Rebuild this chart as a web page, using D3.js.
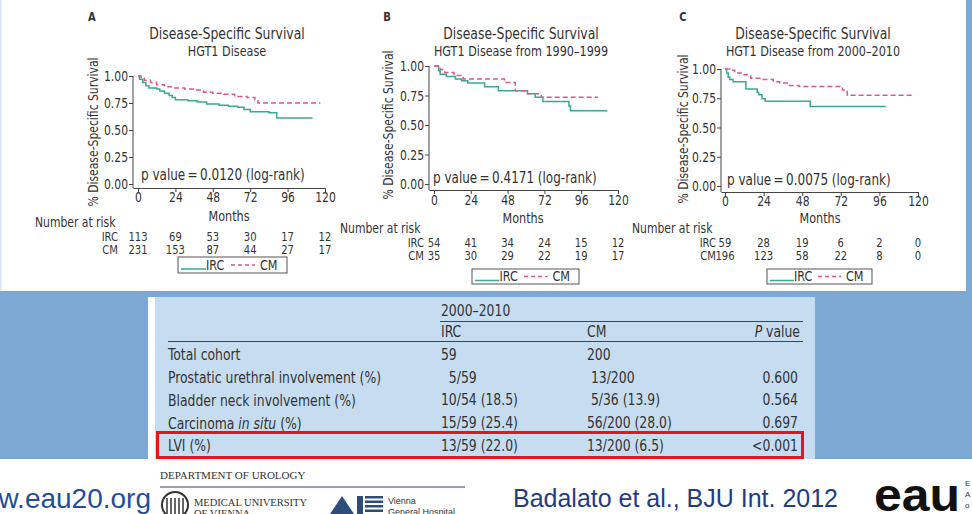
<!DOCTYPE html>
<html><head><meta charset="utf-8">
<script src="https://cdn.jsdelivr.net/npm/d3@7"></script>
<style>
body{margin:0;background:#fff;overflow:hidden}
svg{display:block}
</style></head><body>
<svg id="c" width="972" height="514"></svg>
<script>
// ---------------- DATA ----------------
const monthTicks = [0, 24, 48, 72, 96, 120];
const survTicks = [0, 0.25, 0.5, 0.75, 1];
const seriesNames = ["IRC", "CM"];
const panelLetters = ["A", "B", "C"];
const panelTitle = "Disease-Specific Survival";
const panelSubtitles = ["HGT1 Disease", "HGT1 Disease from 1990\u20131999", "HGT1 Disease from 2000\u20132010"];
const pValues = ["0.0120", "0.4171", "0.0075"];

// Kaplan-Meier steps: [month, survival]
const kmA_IRC = [[0,1],[1,0.97],[3,0.94],[5,0.91],[7,0.89],[12,0.88],[14,0.86],[17,0.84],[20,0.82],[22,0.80],[24,0.78],[32,0.77],[38,0.76],[44,0.74],[52,0.73],[58,0.72],[64,0.71],[68,0.69],[72,0.67],[84,0.66],[89,0.61],[112,0.61]];
const kmA_CM  = [[0,1],[2,0.98],[4,0.96],[8,0.94],[12,0.92],[17,0.90],[22,0.89],[30,0.88],[37,0.87],[42,0.85],[48,0.84],[55,0.83],[62,0.81],[70,0.80],[75,0.78],[77,0.75],[117,0.75]];
const kmB_IRC = [[0,1],[3,0.96],[4,0.93],[8,0.91],[14,0.89],[18,0.875],[22,0.855],[33,0.825],[42,0.79],[61,0.765],[66,0.735],[71,0.70],[88,0.66],[89,0.62],[113,0.62]];
const kmB_CM  = [[0,1],[4,0.97],[7,0.945],[13,0.92],[19,0.89],[46,0.86],[53,0.79],[61,0.765],[70,0.735],[107,0.735]];
const kmC_IRC = [[0,1],[1,0.965],[2,0.93],[3,0.91],[5,0.89],[13,0.83],[20,0.80],[21,0.78],[23,0.745],[25,0.725],[53,0.68],[100,0.68]];
const kmC_CM  = [[0,1],[3,0.99],[6,0.965],[11,0.95],[16,0.92],[23,0.91],[30,0.89],[34,0.88],[40,0.86],[46,0.85],[73,0.82],[76,0.775],[118,0.775]];

// Number at risk at monthTicks
const riskA_IRC = [113, 69, 53, 30, 17, 12];
const riskA_CM  = [231, 153, 87, 44, 27, 17];
const riskB_IRC = [54, 41, 34, 24, 15, 12];
const riskB_CM  = [35, 30, 29, 22, 19, 17];
const riskC_IRC = [59, 28, 19, 6, 2, 0];
const riskC_CM  = [196, 123, 58, 22, 8, 0];

// Table
const tableGroup = "2000\u20132010";
const tableRowLabels = ["Total cohort", "Prostatic urethral involvement (%)", "Bladder neck involvement (%)", "Carcinoma |in situ| (%)", "LVI (%)"];
const tableIRC  = ["59", "\u20075/59", "10/54 (18.5)", "15/59 (25.4)", "13/59 (22.0)"];
const tableCM   = ["200", "\u200813/200", "\u20085/36 (13.9)", "56/200 (28.0)", "13/200 (6.5)"];
const tableP    = ["", "0.600", "0.564", "0.697", "<0.001"];

// ---------------- LAYOUT / STYLE ----------------
const NARROW = "'Liberation Sans Narrow','Arial Narrow','DejaVu Sans Condensed',sans-serif";
const SQUEEZE = 0.89;
const TXT = "#333";
const TEAL = "#3aa893";
const PINK = "#dc5a88";
const BLUE = "#7ba9d3";
const PANEL = "#c6ddf1";

const layout = [
  {x0:138, x1:325, yAxisX:133, y0:184, y1:76, xAxisY:188, letterX:92, titleX:227, yTitleX:93, yTitleY:132,
   tickLabY:197, monthsX:229, monthsY:216, narX:35, narY:222, riskLabX:118, riskY:[236.3,249.6], pX:141, pY:175,
   legend:{x:178, y:257, w:109, h:16}},
  {x0:434, x1:618, yAxisX:429, y0:184, y1:66, xAxisY:190, letterX:387, titleX:521, yTitleX:388, yTitleY:125,
   tickLabY:200, monthsX:523, monthsY:218, narX:340, narY:228.5, riskLabX:424, riskY:[243,256], pX:433, pY:178,
   legend:{x:472, y:269, w:107, h:15}},
  {x0:725, x1:918, yAxisX:721, y0:186, y1:69, xAxisY:192, letterX:683, titleX:813, yTitleX:683, yTitleY:129,
   tickLabY:201, monthsX:820, monthsY:218, narX:632, narY:228.5, riskLabX:716, riskY:[243,256], pX:727, pY:180,
   legend:{x:767, y:269, w:105, h:15}}
];

const kmData = [[kmA_IRC, kmA_CM], [kmB_IRC, kmB_CM], [kmC_IRC, kmC_CM]];
const riskData = [[riskA_IRC, riskA_CM], [riskB_IRC, riskB_CM], [riskC_IRC, riskC_CM]];

const svg = d3.select("#c");
function txt(sel, x, y, size, s, anchor) {
  return sel.append("text").attr("class", "n").attr("x", x).attr("y", y)
    .attr("dominant-baseline", "central").attr("text-anchor", anchor || "start")
    .style("font", `${size}px ${NARROW}`).attr("fill", TXT).text(s);
}

// ---------------- BACKGROUND ----------------
svg.append("rect").attr("width", 972).attr("height", 514).attr("fill", "#fff");
svg.append("rect").attr("x", 0).attr("y", 291).attr("width", 972).attr("height", 168).attr("fill", BLUE);
svg.append("rect").attr("x", 966).attr("y", 0).attr("width", 6).attr("height", 291).attr("fill", BLUE);
svg.append("rect").attr("x", 0).attr("y", 0).attr("width", 1.5).attr("height", 291).attr("fill", "#d6e6f3");

// ---------------- KM PANELS ----------------
layout.forEach((L, i) => {
  const g = svg.append("g");
  const x = d3.scaleLinear().domain([0, 120]).range([L.x0, L.x1]);
  const y = d3.scaleLinear().domain([0, 1]).range([L.y0, L.y1]);

  txt(g, L.letterX, 17, 12.5, panelLetters[i], "middle").style("font-weight", "bold");
  txt(g, L.titleX, 33, 15.5, panelTitle, "middle");
  txt(g, L.titleX, 51, 14, panelSubtitles[i], "middle");

  // y axis
  const yAx = g.append("g").attr("transform", `translate(${L.yAxisX},0)`)
    .call(d3.axisLeft(y).tickValues(survTicks).tickFormat(d3.format(".2f")).tickSize(4).tickSizeOuter(0));
  yAx.select(".domain").attr("d", `M0,${y(1)}V${L.xAxisY}`);
  // x axis
  const xAxScale = d3.scaleLinear().domain([x.invert(L.yAxisX), 120]).range([L.yAxisX, L.x1]);
  const xAx = g.append("g").attr("transform", `translate(0,${L.xAxisY})`)
    .call(d3.axisBottom(xAxScale).tickValues(monthTicks).tickSize(4).tickSizeOuter(0));
  [yAx, xAx].forEach(a => {
    a.selectAll("path,line").attr("stroke", "#444").attr("stroke-width", 1);
    a.selectAll("text").attr("class", "n").style("font", `13.5px ${NARROW}`).attr("fill", TXT);
  });
  yAx.selectAll("text").attr("x", -5).attr("dy", "0.35em");
  xAx.selectAll("text").attr("y", L.tickLabY - L.xAxisY).attr("dy", "0.35em");

  // axis titles
  g.append("text").attr("class", "n").attr("transform", `translate(${L.yTitleX},${L.yTitleY}) rotate(-90)`)
    .attr("text-anchor", "middle").attr("dominant-baseline", "central")
    .style("font", `13.5px ${NARROW}`).attr("fill", TXT).text("% Disease-Specific Survival");
  txt(g, L.monthsX, L.monthsY, 14, "Months", "middle");

  // curves
  const line = d3.line().x(d => x(d[0])).y(d => y(d[1])).curve(d3.curveStepAfter);
  kmData[i].forEach((s, k) => {
    g.append("path").attr("d", line(s)).attr("fill", "none")
      .attr("stroke", k === 0 ? TEAL : PINK).attr("stroke-width", 1.5)
      .attr("stroke-dasharray", k === 0 ? null : "5,3");
  });

  // p value
  txt(g, L.pX, L.pY, 15, `p value\u2009=\u2009${pValues[i]} (log-rank)`);

  // number at risk
  txt(g, L.narX, L.narY, 13.5, "Number at risk");
  riskData[i].forEach((row, k) => {
    txt(g, L.riskLabX, L.riskY[k], 12.5, seriesNames[k], "end");
    g.selectAll(null).data(row).join("text").attr("class", "n")
      .attr("x", (d, j) => x(monthTicks[j])).attr("y", L.riskY[k]).attr("dominant-baseline", "central")
      .attr("text-anchor", "middle").style("font", `12.5px ${NARROW}`).attr("fill", TXT).text(d => d);
  });

  // legend
  const lg = L.legend, cy = lg.y + lg.h / 2, sc = lg.w / 109;
  g.append("rect").attr("x", lg.x).attr("y", lg.y).attr("width", lg.w).attr("height", lg.h)
    .attr("fill", "#fff").attr("stroke", "#555").attr("stroke-width", 1);
  g.append("line").attr("x1", lg.x + 3 * sc).attr("x2", lg.x + 28 * sc).attr("y1", cy + 4).attr("y2", cy + 4)
    .attr("stroke", TEAL).attr("stroke-width", 1.5);
  txt(g, lg.x + 28 * sc, cy, 14, seriesNames[0]);
  g.append("line").attr("x1", lg.x + 53 * sc).attr("x2", lg.x + 77 * sc).attr("y1", cy).attr("y2", cy)
    .attr("stroke", PINK).attr("stroke-width", 1.5).attr("stroke-dasharray", "4,3");
  txt(g, lg.x + 82 * sc, cy, 14, seriesNames[1]);
});

// ---------------- TABLE ----------------
const T = svg.append("g");
T.append("rect").attr("x", 148).attr("y", 297).attr("width", 7).attr("height", 162).attr("fill", "#fff");
T.append("rect").attr("x", 155).attr("y", 297).attr("width", 660).attr("height", 162).attr("fill", PANEL);
const TS = 15.5;
const colX = {label: 168, irc: 441, cm: 587, p: 800};
txt(T, colX.irc, 310, TS, tableGroup);
T.append("line").attr("x1", 440).attr("x2", 803).attr("y1", 321.5).attr("y2", 321.5).attr("stroke", "#444");
txt(T, colX.irc, 331, TS, seriesNames[0]);
txt(T, colX.cm, 331, TS, seriesNames[1]);
const ph = txt(T, colX.p, 331, TS, null, "end");
ph.append("tspan").style("font-style", "italic").text("P");
ph.append("tspan").text(" value");
T.append("line").attr("x1", 168).attr("x2", 803).attr("y1", 341.5).attr("y2", 341.5).attr("stroke", "#444");

const rowY = d3.scalePoint().domain(d3.range(tableRowLabels.length)).range([354, 445]);
tableRowLabels.forEach((lab, r) => {
  const t = txt(T, colX.label, rowY(r), TS, null);
  lab.split("|").forEach((part, j) => t.append("tspan").style("font-style", j === 1 ? "italic" : "normal").text(part));
  txt(T, colX.irc, rowY(r), TS, tableIRC[r]);
  txt(T, colX.cm, rowY(r), TS, tableCM[r]);
  txt(T, colX.p - 2, rowY(r), TS, tableP[r], "end");
});
T.append("rect").attr("x", 157.5).attr("y", 432.5).attr("width", 645).attr("height", 25)
  .attr("fill", "none").attr("stroke", "#e8141b").attr("stroke-width", 3);

// squeeze condensed texts horizontally (about their anchor) to emulate the narrow typeface
svg.selectAll("text.n").each(function () {
  const s = d3.select(this);
  const x = +s.attr("x") || 0;
  const t = s.attr("transform") || "";
  s.attr("transform", `${t} translate(${x},0) scale(${SQUEEZE},1) translate(${-x},0)`);
});

// ---------------- FOOTER ----------------
const F = svg.append("g");
F.append("text").attr("x", 151).attr("y", 508).attr("text-anchor", "end")
  .style("font", "28px 'Liberation Sans',Arial,sans-serif").attr("fill", "#1f4f9c").text("www.eau20.org");
F.append("text").attr("x", 160).attr("y", 479)
  .style("font", "11px 'Liberation Serif','DejaVu Serif',serif").attr("fill", "#333").text("DEPARTMENT OF UROLOGY");
F.append("line").attr("x1", 160).attr("x2", 465).attr("y1", 487).attr("y2", 487).attr("stroke", "#9a9fa8").attr("stroke-width", 2);
F.append("circle").attr("cx", 175).attr("cy", 505).attr("r", 13).attr("fill", "none").attr("stroke", "#333").attr("stroke-width", 2);
d3.range(5).forEach(k => F.append("line").attr("x1", 167 + k * 4).attr("x2", 167 + k * 4).attr("y1", 498).attr("y2", 514)
  .attr("stroke", "#333").attr("stroke-width", 1.5));
F.append("text").attr("x", 194).attr("y", 506)
  .style("font", "10.5px 'Liberation Serif','DejaVu Serif',serif").attr("fill", "#333").text("MEDICAL UNIVERSITY");
F.append("text").attr("x", 194).attr("y", 517)
  .style("font", "10.5px 'Liberation Serif','DejaVu Serif',serif").attr("fill", "#333").text("OF VIENNA");
F.append("path").attr("d", "M330,514 L342,496 L354,514 Z").attr("fill", "#2d4d7c");
F.append("rect").attr("x", 357).attr("y", 496).attr("width", 6).attr("height", 18).attr("fill", "#2d4d7c");
d3.range(4).forEach(k => F.append("rect").attr("x", 365).attr("y", 496 + k * 4.5).attr("width", 18).attr("height", 2.5).attr("fill", "#2d4d7c"));
F.append("text").attr("x", 388).attr("y", 504).style("font", "9px 'Liberation Sans',Arial,sans-serif").attr("fill", "#333").text("Vienna");
F.append("text").attr("x", 388).attr("y", 515).style("font", "9px 'Liberation Sans',Arial,sans-serif").attr("fill", "#333").text("General Hospital");
F.append("text").attr("x", 513).attr("y", 507).attr("textLength", 325).attr("lengthAdjust", "spacingAndGlyphs")
  .style("font", "25px 'Liberation Sans',Arial,sans-serif").attr("fill", "#1f3d86").text("Badalato et al., BJU Int. 2012");
F.append("text").attr("x", 874).attr("y", 511).attr("textLength", 86).attr("lengthAdjust", "spacingAndGlyphs")
  .style("font", "bold 46px 'Liberation Sans',Arial,sans-serif").attr("fill", "#111").text("eau");
["E", "A", "o"].forEach((c, k) => F.append("text").attr("x", 965).attr("y", 486 + k * 11)
  .style("font", "8px 'Liberation Sans',Arial,sans-serif").attr("fill", "#333").text(c));
</script></body></html>
